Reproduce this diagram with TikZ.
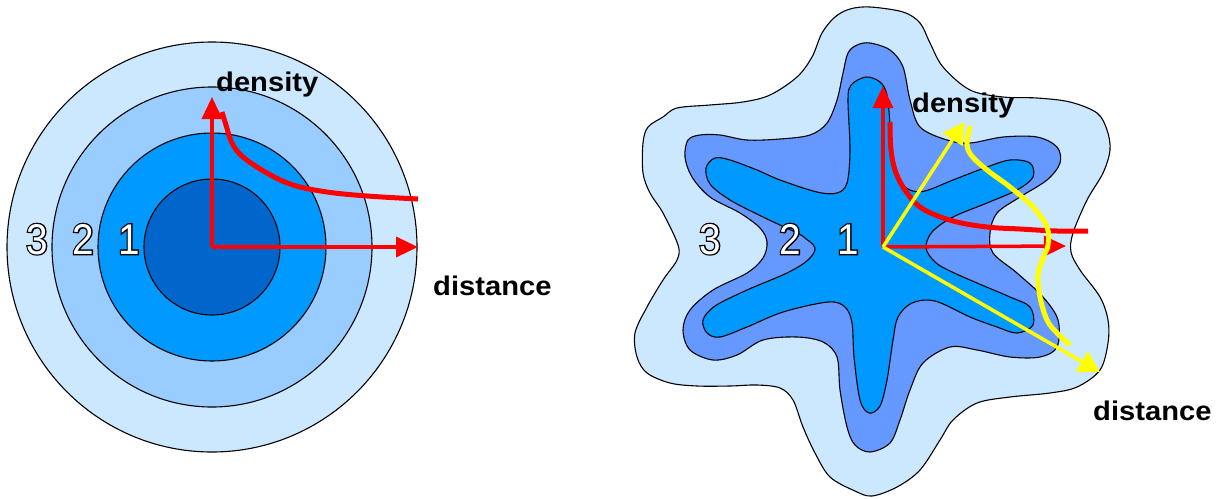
\documentclass[tikz,border=0pt]{standalone}
\usepackage{fontspec}
\usetikzlibrary{arrows.meta}
\newfontfamily\lab[FakeStretch=1.08]{Liberation Sans}
\newfontfamily\dig[FakeStretch=0.9]{Liberation Sans}
\newfontfamily\digB[FakeStretch=0.9,FakeBold=6]{Liberation Sans}
\definecolor{cthree}{HTML}{CCE8FF}
\definecolor{ctwo}{HTML}{99CCFF}
\definecolor{cone}{HTML}{0099FF}
\definecolor{czero}{HTML}{0066CC}
\definecolor{cmid}{HTML}{6699FF}
\definecolor{myred}{HTML}{FF0000}
\definecolor{myyellow}{HTML}{FFFF00}
\tikzset{
  contour/.style={draw=black, line width=1.1pt},
  axisred/.style={draw=myred, line width=3.5pt, -{Triangle[length=22pt,width=20pt]}},
  axisyel/.style={draw=myyellow, line width=3.5pt, -{Triangle[length=21pt,width=23pt]}},
  curvered/.style={draw=myred, line width=5pt},
  curveyel/.style={draw=myyellow, line width=5pt},
  labeltext/.style={inner sep=0pt, anchor=base west, font=\lab\bfseries\fontsize{27}{32}\selectfont},
  digtext/.style={inner sep=0pt, anchor=base, font=\fontsize{43}{46}\selectfont},
}
\newcommand\odigit[3]{%
  \node[digtext] (#1) at (#2) {\makebox[0pt]{\digB\color{black}#3}\makebox[0pt]{\dig\color{white}#3}};}
\begin{document}
\begin{tikzpicture}[x=1pt,y=-1pt]
\useasboundingbox (0,0) rectangle (1220,498);
% ---------------- left: concentric circles
\coordinate (C) at (212,247);
\fill[cthree] (C) circle[radius=205];
\draw[contour] (C) circle[radius=205];
\fill[ctwo] (C) circle[radius=160];
\draw[contour] (C) circle[radius=160];
\fill[cone] (C) circle[radius=114];
\draw[contour] (C) circle[radius=114];
\fill[czero] (C) circle[radius=68];
\draw[contour] (C) circle[radius=68];
\odigit{l3}{37,254}{3}
\odigit{l2}{83,254}{2}
\odigit{l1}{129,254}{1}
% ---------------- right: star shapes
\path[fill=cthree, contour] plot[smooth cycle, tension=0.55] coordinates {
(870,7) (903,12) (920,23) (930,43) (943,67) (970,90) (1003,97) (1037,98) (1070,102) (1097,113) (1107,130) (1110,150) (1103,173) (1087,200) (1073,233) (1071,252) (1080,270) (1100,297) (1108,320) (1108,343) (1100,370) (1077,387) (1050,393) (1010,397) (977,403) (953,420) (940,440) (920,470) (897,487) (872,496) (855,491) (830,477) (815,453) (803,427) (793,400) (780,388) (757,385) (730,386) (697,386) (670,383) (647,373) (637,357) (635,333) (647,307) (663,280) (677,260) (678,245) (663,213) (650,193) (643,173) (643,143) (648,127) (663,117) (677,108) (710,105) (743,102) (770,95) (797,77) (812,57) (822,33) (835,17) (850,9)};
\path[fill=cmid, contour] plot[smooth cycle, tension=0.55] coordinates {
(870,43) (890,50) (903,67) (910,100) (920,127) (947,140) (970,143) (1003,137) (1037,137) (1057,147) (1060,163) (1047,180) (1020,197) (997,213) (990,233) (993,253) (1017,273) (1043,297) (1058,320) (1057,347) (1040,357) (1010,357) (977,350) (950,347) (923,363) (910,390) (900,420) (890,443) (870,452) (855,445) (847,427) (840,390) (837,357) (823,342) (797,337) (763,340) (737,355) (713,360) (690,350) (683,330) (690,310) (713,290) (747,273) (763,258) (767,242) (760,228) (740,213) (710,197) (692,177) (685,157) (688,140) (700,135) (720,135) (747,140) (780,139) (810,135) (827,123) (837,100) (843,73) (848,53) (857,45)};
\path[fill=cone, contour] plot[smooth cycle, tension=0.55] coordinates {
(866,77) (880,82) (887,95) (890,125) (892,160) (898,180) (910,190) (925,191) (953,180) (987,167) (1010,160) (1030,163) (1033,177) (1017,190) (987,203) (953,217) (932,232) (926,248) (935,262) (950,271) (977,283) (1010,297) (1030,307) (1033,325) (1017,333) (997,327) (970,317) (935,301) (912,303) (898,317) (893,340) (887,380) (880,406) (869,413) (860,400) (854,357) (852,323) (845,307) (828,302) (783,312) (747,327) (720,337) (707,333) (703,320) (715,306) (747,290) (787,273) (808,260) (815,248) (805,238) (797,233) (763,217) (730,200) (710,184) (706,168) (715,158) (730,160) (757,170) (780,180) (817,192) (837,193) (847,183) (850,150) (848,100) (851,85)};
\odigit{r3}{710,254}{3}
\odigit{r2}{790,254}{2}
\odigit{r1}{848,254}{1}
% ---------------- left axes and curve
\coordinate (OL) at (212,247);
\coordinate (DL) at (212,97);
\coordinate (XL) at (418,247);
\draw[axisred] (OL) -- (DL);
\draw[axisred] (OL) -- (XL);
\draw[curvered] plot[smooth, tension=0.6] coordinates {(222,112) (226,125) (232,143) (243,157) (267,173) (293,185) (327,192) (367,196) (418,199)};
% ---------------- right axes and curves
\coordinate (OR) at (883,247);
\coordinate (DR) at (883,86);
\coordinate (XR) at (1066,246);
\coordinate (Y1) at (964,122);
\coordinate (Y2) at (1100,372);
\draw[axisred] (OR) -- (DR);
\draw[axisred] (OR) -- (XR);
\draw[curvered] plot[smooth, tension=0.6] coordinates {(890,122) (891,150) (896,173) (907,193) (923,209) (953,221) (987,227) (1020,229) (1057,231) (1088,231)};
\draw[axisyel] (OR) -- (Y1);
\draw[axisyel] (OR) -- (Y2);
\draw[curveyel] plot[smooth, tension=0.6] coordinates {(970,126) (967,143) (971,155) (987,170) (1010,187) (1033,207) (1047,227) (1048,245) (1043,258) (1038,275) (1040,297) (1047,320) (1057,333) (1070,345)};
% ---------------- labels
\node[labeltext] (densL) at (216,91) {density};
\node[labeltext] (distL) at (433,295) {distance};
\node[labeltext] (densR) at (912,112) {density};
\node[labeltext] (distR) at (1093,420) {distance};
\end{tikzpicture}
\end{document}
